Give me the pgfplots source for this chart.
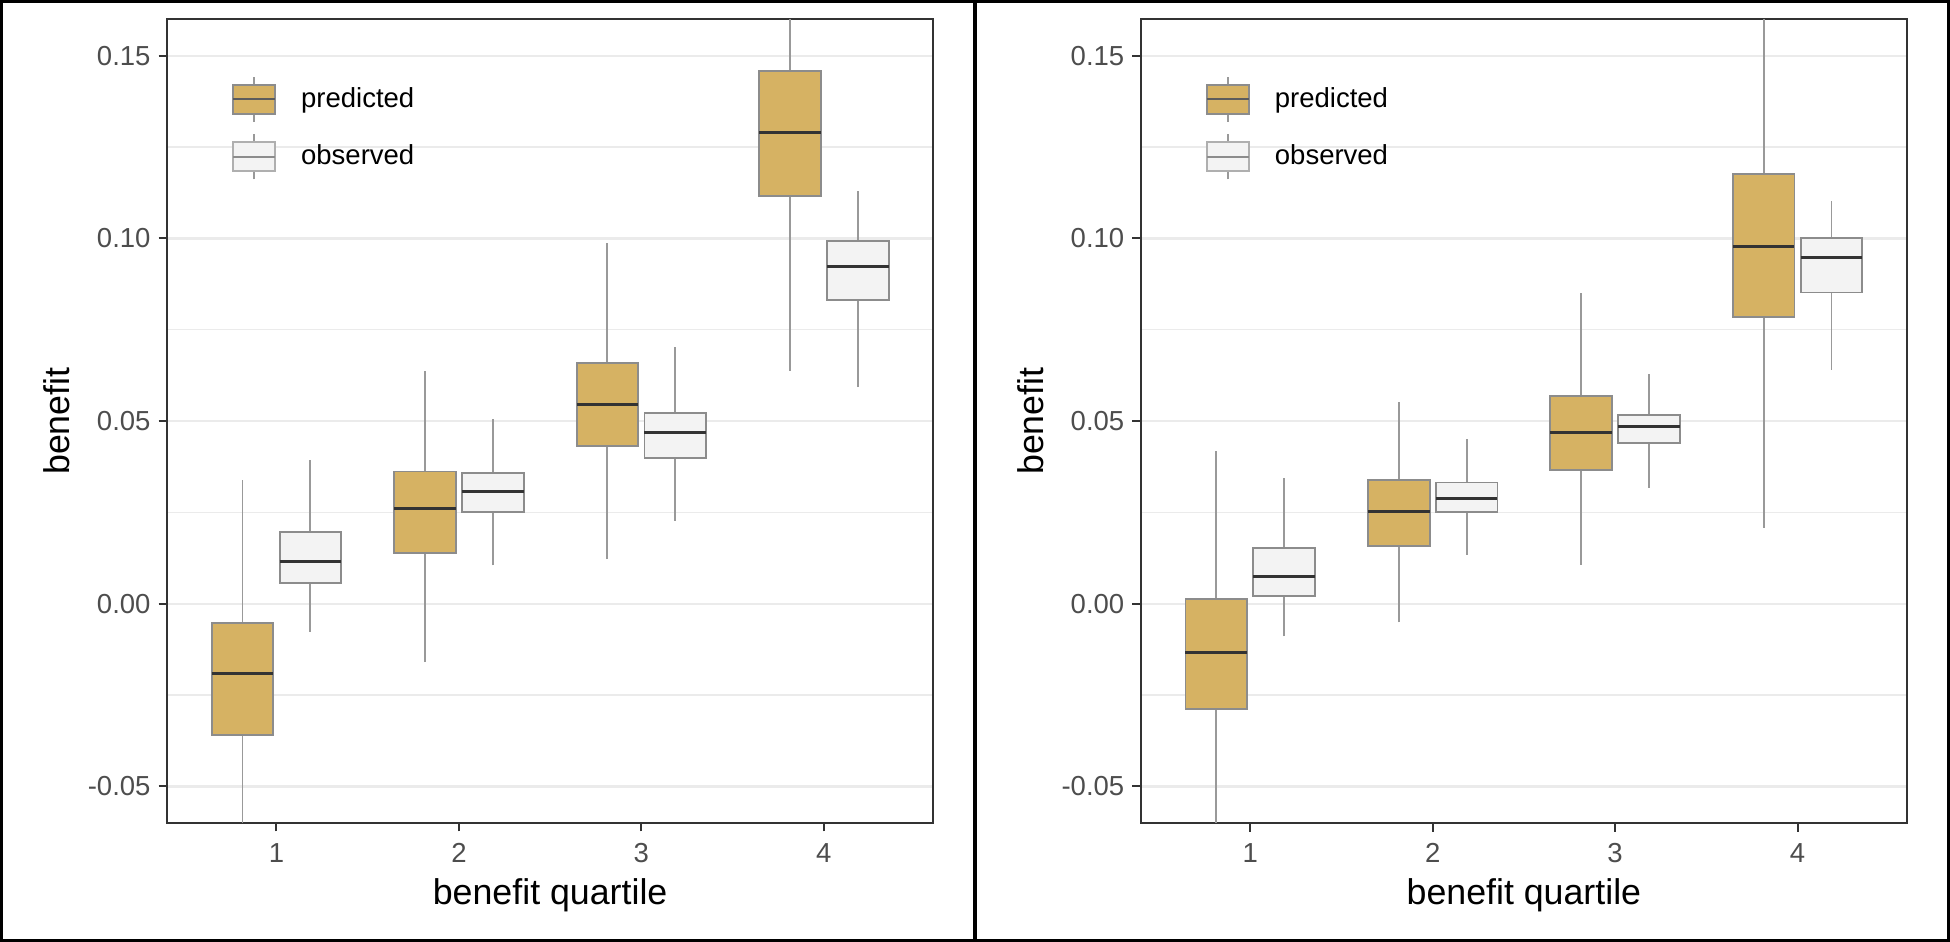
\documentclass[border=0pt]{standalone}
\usepackage{fontspec}
\setmainfont{Liberation Sans}
\usepackage{pgfplots}
\pgfplotsset{compat=1.18}
\definecolor{predfill}{HTML}{D6B263}
\definecolor{obsfill}{HTML}{F3F3F3}
\definecolor{boxedge}{HTML}{8C8C8C}
\definecolor{whiskcol}{HTML}{999999}
\definecolor{medcol}{HTML}{333333}
\definecolor{gridcol}{HTML}{EBEBEB}
\definecolor{framecol}{HTML}{333333}
\definecolor{ticklab}{HTML}{4D4D4D}

\newcommand{\ticksize}{\fontsize{11bp}{13bp}\selectfont}
\newcommand{\titlesize}{\fontsize{14.3bp}{17bp}\selectfont}

\pgfplotsset{
  panel/.style={
    scale only axis, width=306.5bp, height=321.5bp,
    anchor=south west,
    xmin=0.4, xmax=4.6, ymin=-0.06, ymax=0.16,
    xtick={1,2,3,4}, xticklabels={1,2,3,4},
    ytick={-0.05,0,0.05,0.1,0.15},
    yticklabels={-0.05,0.00,0.05,0.10,0.15},
    minor ytick={-0.025,0.025,0.075,0.125},
    ymajorgrids, yminorgrids,
    major grid style={draw=gridcol, line width=0.9bp},
    minor grid style={draw=gridcol, line width=0.55bp},
    axis line style={draw=framecol, line width=0.8bp},
    tick align=outside, tick pos=left,
    major tick length=3.4bp, minor tick length=0pt,
    major tick style={draw=framecol, line width=0.8bp},
    minor tick style={draw=none},
    xticklabel style={font=\ticksize, text=ticklab, anchor=base, yshift=-12.2bp, inner sep=0pt},
    yticklabel style={font=\ticksize, text=ticklab, anchor=east, inner sep=0pt, xshift=-3.0bp},
    xlabel={benefit quartile}, ylabel={benefit},
    xlabel style={font=\titlesize, at={(axis description cs:0.5,-0.102)}, anchor=base, inner sep=0pt},
    ylabel style={font=\titlesize, at={(axis description cs:-0.127,0.5)}, anchor=base, inner sep=0pt},
    legend style={at={(axis description cs:0.0852,0.9294)}, anchor=north west,
      draw=none, fill=none, inner sep=0pt, outer sep=0pt, row sep=4.2bp,
      font=\ticksize, nodes={inner sep=0pt},
      /tikz/every odd column/.append style={column sep=10bp}},
    legend cell align=left,
  },
  predkey/.style={legend image code/.code={
      \draw[whiskcol, line width=0.75bp] (8.4bp,-9bp) -- (8.4bp,9bp);
      \draw[fill=predfill, draw=boxedge, line width=0.75bp] (0bp,-5.8bp) rectangle (16.8bp,5.8bp);
      \draw[medcol!80!white, line width=0.75bp] (0bp,0bp) -- (16.8bp,0bp);}},
  obskey/.style={legend image code/.code={
      \draw[whiskcol, line width=0.75bp] (8.4bp,-9bp) -- (8.4bp,9bp);
      \draw[fill=obsfill, draw=boxedge!70!white, line width=0.75bp] (0bp,-5.8bp) rectangle (16.8bp,5.8bp);
      \draw[boxedge, line width=0.75bp] (0bp,0bp) -- (16.8bp,0bp);}},
}

% one box: #1 fill colour, #2 centre x, #3 lower whisker, #4 lower quartile,
% #5 median, #6 upper quartile, #7 upper whisker   (box half width 0.169)
\newcommand{\bx}[7]{%
  \pgfmathsetmacro{\xl}{#2-0.169}%
  \pgfmathsetmacro{\xr}{#2+0.169}%
  \edef\doplots{%
    \noexpand\addplot[forget plot, draw=whiskcol, line width=0.75bp]
      coordinates {(#2,#3) (#2,#7)};
    \noexpand\addplot[forget plot, fill=#1, draw=boxedge, line width=0.75bp]
      coordinates {(\xl,#4) (\xr,#4) (\xr,#6) (\xl,#6)} -- cycle;
    \noexpand\addplot[forget plot, draw=medcol, line width=1.2bp]
      coordinates {(\xl,#5) (\xr,#5)};
  }%
  \doplots
}

\begin{document}
\begin{tikzpicture}
\useasboundingbox (0,0) rectangle (780bp,376.8bp);

% ---------- left panel ----------
\begin{axis}[panel, at={(66.8bp,47.6bp)}]
\addlegendimage{predkey}\addlegendentry{predicted}
\addlegendimage{obskey}\addlegendentry{observed}
\bx{predfill}{0.814}{-0.075}{-0.0359}{-0.0191}{-0.0053}{0.0338}
\bx{obsfill}{1.186}{-0.0077}{0.0056}{0.0117}{0.0196}{0.0394}
\bx{predfill}{1.814}{-0.0160}{0.0140}{0.0261}{0.0362}{0.0636}
\bx{obsfill}{2.186}{0.0105}{0.0251}{0.0307}{0.0357}{0.0506}
\bx{predfill}{2.814}{0.0122}{0.0433}{0.0545}{0.0658}{0.0987}
\bx{obsfill}{3.186}{0.0227}{0.0400}{0.0469}{0.0522}{0.0703}
\bx{predfill}{3.814}{0.0638}{0.1116}{0.1289}{0.1459}{0.19}
\bx{obsfill}{4.186}{0.0593}{0.0831}{0.0922}{0.0994}{0.1129}
\end{axis}

% ---------- right panel ----------
\begin{axis}[panel, at={(456.3bp,47.6bp)}]
\addlegendimage{predkey}\addlegendentry{predicted}
\addlegendimage{obskey}\addlegendentry{observed}
\bx{predfill}{0.814}{-0.072}{-0.0288}{-0.0133}{0.0014}{0.0419}
\bx{obsfill}{1.186}{-0.0089}{0.0022}{0.0075}{0.0153}{0.0345}
\bx{predfill}{1.814}{-0.0051}{0.0159}{0.0253}{0.0339}{0.0551}
\bx{obsfill}{2.186}{0.0134}{0.0251}{0.0288}{0.0332}{0.0451}
\bx{predfill}{2.814}{0.0107}{0.0367}{0.0468}{0.0568}{0.0851}
\bx{obsfill}{3.186}{0.0318}{0.0439}{0.0485}{0.0517}{0.0630}
\bx{predfill}{3.814}{0.0208}{0.0785}{0.0979}{0.1176}{0.175}
\bx{obsfill}{4.186}{0.0640}{0.0852}{0.0947}{0.1002}{0.1103}
\end{axis}

% outer frame of the two stitched images
\draw[black, line width=1.3bp] (0.65bp,0.65bp) rectangle (779.35bp,376.15bp);
\draw[black, line width=1.3bp] (390bp,0bp) -- (390bp,376.8bp);
\end{tikzpicture}
\end{document}
